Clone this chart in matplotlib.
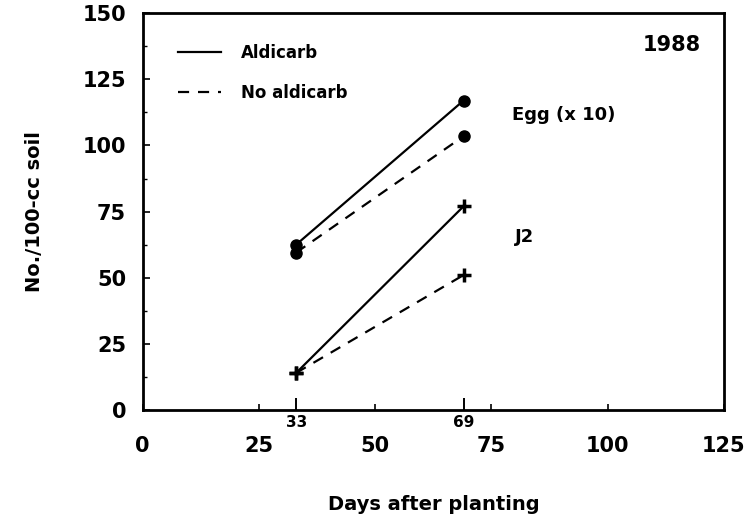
import numpy as np
import matplotlib
matplotlib.use('Agg')
import matplotlib.pyplot as plt
from matplotlib.ticker import FixedLocator, FixedFormatter

days = [33, 69]
egg_aldicarb = [62.5, 117]           # eggs (x 10)
egg_no_aldicarb = [59.5, 103.5]
j2_aldicarb = [14, 77]
j2_no_aldicarb = [14, 51]

xticks = [0, 25, 50, 75, 100, 125]
yticks = [0, 25, 50, 75, 100, 125, 150]

plt.rcParams['font.family'] = 'DejaVu Sans'
plt.rcParams['font.weight'] = 'bold'

fig = plt.figure(figsize=(7.51, 5.31), dpi=100)
ax = fig.add_axes([0.190, 0.228, 0.774, 0.747])

dash = (0, (5, 4))
ax.plot(days, egg_aldicarb, color='black', lw=1.6, marker='o', ms=8, label='Aldicarb')
ax.plot(days, egg_no_aldicarb, color='black', lw=1.6, ls=dash, marker='o', ms=8, label='No aldicarb')
ax.plot(days, j2_aldicarb, color='black', lw=1.6, marker='+', ms=10, mew=2.5)
ax.plot(days, j2_no_aldicarb, color='black', lw=1.6, ls=dash, marker='+', ms=10, mew=2.5)

ax.set_xlim(0, 125)
ax.set_ylim(0, 150)

ax.set_xticks(xticks)
ax.xaxis.set_minor_locator(FixedLocator(days))
ax.xaxis.set_minor_formatter(FixedFormatter([str(d) for d in days]))
ax.tick_params(axis='x', which='major', direction='in', length=4, width=1.2, pad=19, labelsize=15)
ax.tick_params(axis='x', which='minor', direction='in', length=9, width=1.4, pad=4, labelsize=11)
ax.set_yticks(yticks)
ax.yaxis.set_minor_locator(FixedLocator(np.arange(12.5, 150, 25)))
ax.tick_params(axis='y', which='major', direction='in', length=5, width=1.2, pad=12, labelsize=15)
ax.tick_params(axis='y', which='minor', direction='in', length=3, width=1.0)
for lab in ax.get_xticklabels(which='both') + ax.get_yticklabels():
    lab.set_fontweight('heavy')

for sp in ax.spines.values():
    sp.set_linewidth(2)

ax.set_xlabel('Days after planting', fontsize=14, fontweight='heavy', labelpad=28)
ax.set_ylabel('No./100-cc soil', fontsize=14, fontweight='heavy', labelpad=28)

leg = ax.legend(loc='upper left', bbox_to_anchor=(0.035, 0.96), frameon=False,
                handlelength=2.6, handletextpad=1.2, labelspacing=1.3,
                prop={'size': 12, 'weight': 'heavy'})
for h in leg.legend_handles:
    h.set_marker('')

ax.text(0.96, 0.92, '1988', transform=ax.transAxes, ha='right', va='center',
        fontsize=15, fontweight='heavy')
ax.text(79.5, 111.5, 'Egg (x 10)', ha='left', va='center', fontsize=13, fontweight='heavy')
ax.text(80, 65.5, 'J2', ha='left', va='center', fontsize=13, fontweight='heavy')

fig.savefig('out.png', dpi=100)
